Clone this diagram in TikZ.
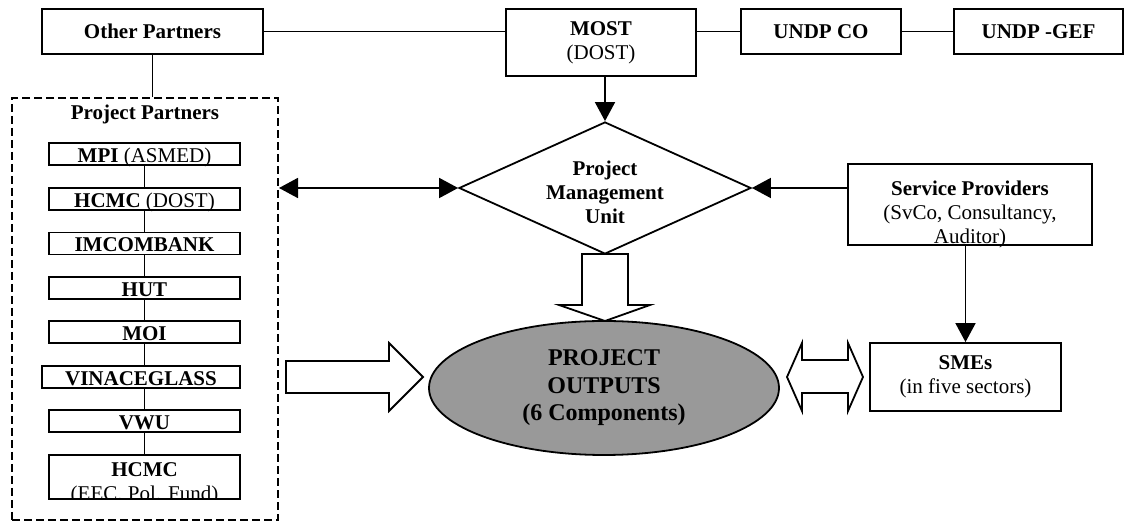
\documentclass[tikz,border=0pt]{standalone}
\usepackage{fontspec}
\setmainfont{Liberation Serif}
\usetikzlibrary{shapes.geometric,arrows.meta}
\definecolor{outgray}{HTML}{999999}

\begin{document}
\begin{tikzpicture}[x=0.5pt,y=-0.5pt,
  every node/.style={font=\fontsize{10.5}{12}\selectfont},
  box/.style={draw,line width=0.9pt,inner sep=0pt,align=center},
  pbox/.style={box,minimum width=95.5pt,minimum height=11pt,text height=8.5pt,text depth=0pt},
  link/.style={line width=0.9pt},
  arr/.style={line width=0.9pt,-{Triangle[length=9.5pt,width=10pt]}},
  arrtwo/.style={line width=0.9pt,{Triangle[length=9.5pt,width=10pt]}-{Triangle[length=9.5pt,width=10pt]}},
  hollow/.style={draw,line width=0.9pt,fill=white,line join=miter}]
\useasboundingbox (0,0) rectangle (1124,522);

%%%%%%%%%%%%%%%%%%Draw The Top Row of Boxes%%%%%%%%%%%%%%%
\node[box,minimum width=110.5pt,minimum height=22.5pt] (oth) at (152.5,31.5) {\textbf{Other Partners}};
\node[box,minimum width=95pt,minimum height=33.5pt] (most) at (601,42.5) {\textbf{MOST}\\(DOST)};
\node[box,minimum width=80pt,minimum height=22.5pt] (undpco) at (821,31.5) {\textbf{UNDP CO}};
\node[box,minimum width=84.5pt,minimum height=22.5pt] (gef) at (1038.5,31.5) {\textbf{UNDP -GEF}};

\draw[link] (oth.east) -- (oth.east -| most.west);
\draw[link] (undpco.west -| most.east) -- (undpco.west);
\draw[link] (undpco.east) -- (gef.west);

%%%%%%%%%%%%%%%%%%Draw The Project Partners Frame%%%%%%%%%%%%%%
\node[draw,dash pattern=on 4pt off 2pt,line width=1pt,minimum width=133pt,minimum height=211pt] (frame) at (145,309) {};
\node[font=\fontsize{10.5}{12}\selectfont\bfseries] (pptitle) at (145,114) {Project Partners};
\draw[link] (oth.south) -- (oth.south |- frame.north);

%%%%%%%%%%%%%%%%%%Draw The Partner Boxes%%%%%%%%%%%%%%%%%%
\foreach \nm/\yy/\txt in {mpi/154/{\textbf{MPI} (ASMED)}, hcmc/199/{\textbf{HCMC} (DOST)}, imco/243.5/{\textbf{IMCOMBANK}}, hut/288/{\textbf{HUT}}, moi/332/{\textbf{MOI}}, vwu/421/{\textbf{VWU}}}
  \node[pbox] (\nm) at (144.5,\yy) {\txt};
\node[pbox,minimum width=99pt] (vina) at (141,377) {\textbf{VINACEGLASS}};
\node[box,minimum width=95.5pt,minimum height=22pt] (eec) at (144.5,477) {};
\begin{scope}
\clip (eec.north west) rectangle (eec.south east);
\node[align=center] (eectxt) at (144.5,484) {\textbf{HCMC}\\(EEC. Pol. Fund)};
\end{scope}

\foreach \a/\b in {mpi/hcmc,hcmc/imco,imco/hut,hut/moi,moi/vina,vina/vwu,vwu/eec}
  \draw[link] (\a.south -| mpi.south) -- (\b.north -| mpi.south);

%%%%%%%%%%%%%%%%%%Draw The Management Unit%%%%%%%%%%%%%%%%%%
\node[draw,diamond,line width=0.9pt,minimum width=146pt,minimum height=66pt,inner sep=0pt] (pmu) at (605,188) {};
\begin{scope}
\clip (450,100) rectangle (760,223);
\node[align=center,font=\fontsize{10.5}{12}\selectfont\bfseries] (pmutxt) at (605,192) {Project\\Management\\Unit};
\end{scope}

\draw[arr] (pmu.north |- most.south) -- (pmu.north);
\draw[arrtwo] (frame.east |- pmu.west) -- (pmu.west);

%%%%%%%%%%%%%%%%%%Draw Service Providers and SMEs%%%%%%%%%%%%%%%%%%
\node[box,minimum width=122pt,minimum height=40.5pt] (serv) at (970,204.5) {};
\node[align=center] (servtxt) at (970,214) {\textbf{Service Providers}\\(SvCo, Consultancy,\\Auditor)};
\node[box,minimum width=95.5pt,minimum height=34pt] (smes) at (965.5,377) {\textbf{SMEs}\\(in five sectors)};

\draw[arr] (serv.west |- pmu.east) -- (pmu.east);
\draw[arr] (smes.north |- serv.south) -- (smes.north);

%%%%%%%%%%%%%%%%%%Draw The Outputs Ellipse%%%%%%%%%%%%%%%%%%
\node[draw,ellipse,line width=0.9pt,fill=outgray,minimum width=175pt,minimum height=67pt,inner sep=0pt,align=center,font=\fontsize{12}{13.8}\selectfont\bfseries] (outp) at (604,388) {PROJECT\\OUTPUTS\\(6 Components)};

%%%%%%%%%%%%%%%%%%Draw The Hollow Arrows%%%%%%%%%%%%%%%%%%
\draw[hollow] (582,254) -- (628,254) -- (628,305) -- (650,305) -- (605,321) -- (559,305) -- (582,305) -- cycle;
\draw[hollow] (286,361) -- (389,361) -- (389,343) -- (423,377) -- (389,411) -- (389,393) -- (286,393) -- cycle;
\draw[hollow] (787,377) -- (802,343) -- (802,360) -- (848,360) -- (848,343) -- (863,377) -- (848,411) -- (848,393) -- (802,393) -- (802,411) -- cycle;

\end{tikzpicture}
\end{document}
